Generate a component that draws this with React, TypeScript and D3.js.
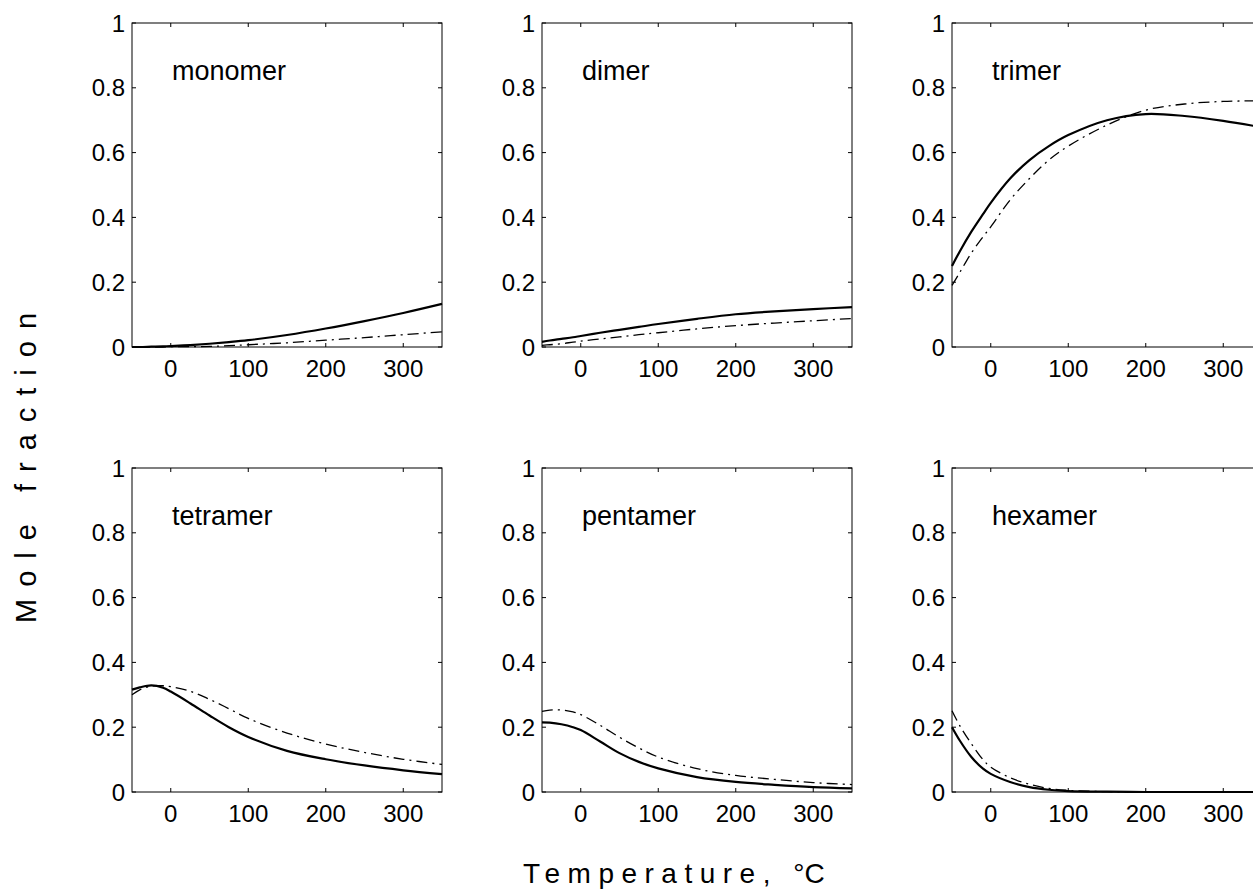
import React from "react";
import * as d3 from "d3";

// temperatures (°C) at which the curves were read
const temps = [-50, -40, -25, -10, 0, 25, 50, 75, 100, 150, 200, 250, 300, 350];

const panelNames = ["monomer", "dimer", "trimer", "tetramer", "pentamer", "hexamer"];

// solid curves
const solidMonomer = [0, 0, 0.001, 0.002, 0.003, 0.006, 0.01, 0.015, 0.021, 0.037, 0.057, 0.08, 0.105, 0.133];
const solidDimer = [0.016, 0.02, 0.025, 0.03, 0.034, 0.044, 0.053, 0.062, 0.071, 0.087, 0.101, 0.11, 0.117, 0.123];
const solidTrimer = [0.25, 0.295, 0.356, 0.41, 0.445, 0.52, 0.577, 0.62, 0.654, 0.7, 0.719, 0.713, 0.698, 0.678];
const solidTetramer = [0.316, 0.323, 0.329, 0.322, 0.31, 0.274, 0.236, 0.2, 0.17, 0.127, 0.101, 0.082, 0.067, 0.055];
const solidPentamer = [0.215, 0.214, 0.209, 0.2, 0.191, 0.156, 0.12, 0.093, 0.073, 0.046, 0.031, 0.022, 0.015, 0.011];
const solidHexamer = [0.2, 0.159, 0.108, 0.072, 0.056, 0.031, 0.015, 0.007, 0.003, 0.001, 0, 0, 0, 0];

// dash-dot curves
const dashMonomer = [0, 0, 0, 0, 0.001, 0.001, 0.002, 0.004, 0.007, 0.013, 0.021, 0.029, 0.038, 0.047];
const dashDimer = [0.005, 0.007, 0.01, 0.015, 0.018, 0.025, 0.031, 0.038, 0.044, 0.056, 0.066, 0.074, 0.081, 0.088];
const dashTrimer = [0.19, 0.23, 0.29, 0.34, 0.371, 0.454, 0.52, 0.577, 0.62, 0.685, 0.731, 0.75, 0.758, 0.76];
const dashTetramer = [0.3, 0.315, 0.327, 0.328, 0.325, 0.311, 0.286, 0.257, 0.227, 0.182, 0.148, 0.122, 0.101, 0.085];
const dashPentamer = [0.249, 0.253, 0.253, 0.247, 0.239, 0.206, 0.169, 0.136, 0.108, 0.072, 0.051, 0.039, 0.029, 0.023];
const dashHexamer = [0.251, 0.205, 0.149, 0.1, 0.077, 0.044, 0.024, 0.011, 0.005, 0.001, 0, 0, 0, 0];

const xTicks = [0, 100, 200, 300];
const yTicks = [0, 0.2, 0.4, 0.6, 0.8, 1];
const yTickLabels = ["0", "0.2", "0.4", "0.6", "0.8", "1"];

const solids = [solidMonomer, solidDimer, solidTrimer, solidTetramer, solidPentamer, solidHexamer];
const dashes = [dashMonomer, dashDimer, dashTrimer, dashTetramer, dashPentamer, dashHexamer];

const FONT = "'Liberation Sans', Arial, Helvetica, sans-serif";

const colLeft = [132, 542, 952];
const rowTop = [23, 468];
const pw = 310;
const ph = 324;

function Panel({ idx }: { idx: number }) {
  const left = colLeft[idx % 3];
  const top = rowTop[Math.floor(idx / 3)];
  const x = d3.scaleLinear().domain([-50, 350]).range([0, pw]);
  const y = d3.scaleLinear().domain([0, 1]).range([ph, 0]);
  const line = d3
    .line<number>()
    .x((_, i) => x(temps[i]))
    .y((d) => y(d))
    .curve(d3.curveCatmullRom.alpha(0.5));
  const tl = 4;

  return (
    <g transform={`translate(${left},${top})`}>
      <rect x={0} y={0} width={pw} height={ph} fill="#fff" stroke="#000" strokeWidth={1} />
      {xTicks.map((t) => (
        <g key={"x" + t}>
          <line x1={x(t)} x2={x(t)} y1={ph} y2={ph - tl} stroke="#000" />
          <line x1={x(t)} x2={x(t)} y1={0} y2={tl} stroke="#000" />
          <text x={x(t)} y={ph + 30} textAnchor="middle" fontSize={24} fontFamily={FONT}>
            {t}
          </text>
        </g>
      ))}
      {yTicks.map((t, i) => (
        <g key={"y" + t}>
          <line x1={0} x2={tl} y1={y(t)} y2={y(t)} stroke="#000" />
          <line x1={pw} x2={pw - tl} y1={y(t)} y2={y(t)} stroke="#000" />
          <text x={-7} y={y(t) + 8.5} textAnchor="end" fontSize={24} fontFamily={FONT}>
            {yTickLabels[i]}
          </text>
        </g>
      ))}
      <path d={line(dashes[idx]) || ""} fill="none" stroke="#000" strokeWidth={1.3} strokeDasharray="11 5 2 5" />
      <path d={line(solids[idx]) || ""} fill="none" stroke="#000" strokeWidth={2.2} />
      <text x={40} y={57} fontSize={27} fontFamily={FONT}>
        {panelNames[idx]}
      </text>
    </g>
  );
}

export default function App() {
  return (
    <svg
      width={1253}
      height={890}
      style={{ position: "absolute", left: 0, top: 0, background: "#fff" }}
    >
      {panelNames.map((_, i) => (
        <Panel key={i} idx={i} />
      ))}
      <text
        transform="translate(36,462) rotate(-90)"
        textAnchor="middle"
        fontSize={29}
        fontFamily={FONT}
        letterSpacing={12}
      >
        Mole fraction
      </text>
      <text x={523} y={883} fontSize={28} fontFamily={FONT}>
        <tspan letterSpacing={7.5}>Temperature, </tspan>
        <tspan letterSpacing={0}>°C</tspan>
      </text>
    </svg>
  );
}
